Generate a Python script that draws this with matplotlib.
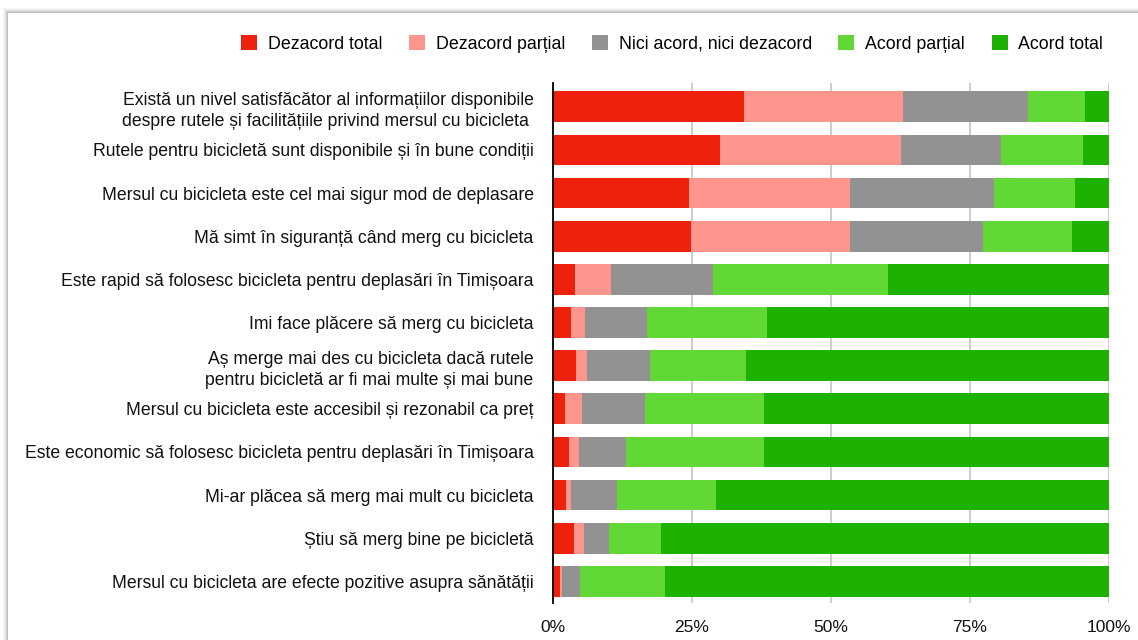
import matplotlib.pyplot as plt
import numpy as np
from matplotlib.patches import Patch, Rectangle

plt.rcParams['font.family'] = ['Liberation Sans', 'DejaVu Sans']

statements = [
    "Există un nivel satisfăcător al informațiilor disponibile\ndespre rutele și facilitățiile privind mersul cu bicicleta ",
    "Rutele pentru bicicletă sunt disponibile și în bune condiții",
    "Mersul cu bicicleta este cel mai sigur mod de deplasare",
    "Mă simt în siguranță când merg cu bicicleta",
    "Este rapid să folosesc bicicleta pentru deplasări în Timișoara",
    "Imi face plăcere să merg cu bicicleta",
    "Aș merge mai des cu bicicleta dacă rutele\npentru bicicletă ar fi mai multe și mai bune",
    "Mersul cu bicicleta este accesibil și rezonabil ca preț",
    "Este economic să folosesc bicicleta pentru deplasări în Timișoara",
    "Mi-ar plăcea să merg mai mult cu bicicleta",
    "Știu să merg bine pe bicicletă",
    "Mersul cu bicicleta are efecte pozitive asupra sănătății",
]

answers = ["Dezacord total", "Dezacord parțial", "Nici acord, nici dezacord",
           "Acord parțial", "Acord total"]

# percentages per answer, one value per statement (top to bottom)
dezacord_total = [34.4, 30.1, 24.5, 24.9, 3.9, 3.3, 4.2, 2.1, 2.8, 2.3, 3.7, 1.3]
dezacord_partial = [28.6, 32.5, 29.0, 28.6, 6.5, 2.5, 2.0, 3.2, 1.9, 1.0, 1.8, 0.3]
neutru = [22.5, 17.9, 25.9, 23.8, 18.3, 11.1, 11.3, 11.2, 8.4, 8.3, 4.5, 3.3]
acord_partial = [10.2, 14.8, 14.5, 16.1, 31.6, 21.5, 17.3, 21.5, 24.8, 17.7, 9.5, 15.2]
acord_total = [4.3, 4.7, 6.1, 6.6, 39.7, 61.6, 65.2, 62.0, 62.1, 70.7, 80.5, 79.9]

colors = ["#EE220C", "#FF968D", "#929292", "#61D836", "#1DB100"]

fig = plt.figure(figsize=(11.38, 6.4), dpi=100)

# card background with a soft shadow on the top and left edges
for i, a in enumerate([0.03, 0.04, 0.05, 0.06, 0.08]):
    off = (5 - i) / 1138
    offy = (5 - i) / 640
    fig.patches.append(Rectangle((8 / 1138 - off, -0.1), 1.2, 1 - 13 / 640 + offy + 0.1,
                                 transform=fig.transFigure, facecolor='black',
                                 alpha=a, edgecolor='none', zorder=-3))
fig.patches.append(Rectangle((8 / 1138, -0.1), 1.2, 1 - 13 / 640 + 0.1,
                             transform=fig.transFigure, facecolor='white',
                             edgecolor='none', zorder=-2))

ax = fig.add_axes([553 / 1138, 1 - 603 / 640, 556 / 1138, 520 / 640])
ax.set_facecolor('none')

y = np.arange(len(statements))
series = [dezacord_total, dezacord_partial, neutru, acord_partial, acord_total]
left = np.zeros(len(statements))
for vals, col in zip(series, colors):
    vals = np.array(vals)
    ax.barh(y, vals, left=left, height=0.71, color=col, edgecolor='none', zorder=3)
    left += vals

ax.set_xlim(0, 100)
ax.set_ylim(11.5, -0.55)
ax.set_yticks(y)
ax.set_yticklabels(statements, fontsize=12.7, color='#111111', linespacing=1.35)
ax.set_xticks([0, 25, 50, 75, 100])
ax.set_xticklabels(["0%", "25%", "50%", "75%", "100%"], fontsize=12.5, color='#111111')
ax.tick_params(axis='both', length=0)
ax.tick_params(axis='y', pad=14)
ax.tick_params(axis='x', pad=12)
ax.xaxis.grid(True, color='#C8C8C8', linewidth=1.3, zorder=0)
for s in ['top', 'right', 'bottom']:
    ax.spines[s].set_visible(False)
ax.spines['left'].set_color('black')
ax.spines['left'].set_linewidth(1.3)
ax.spines['left'].set_zorder(4)

handles = [Patch(facecolor=c, edgecolor='none', label=l) for c, l in zip(colors, answers)]
fig.legend(handles=handles, loc='center right', bbox_to_anchor=(1112 / 1138, 1 - 44 / 640),
           ncol=5, frameon=False, fontsize=12.8, handlelength=0.9, handleheight=0.9,
           handletextpad=0.6, columnspacing=1.5, borderpad=0)

fig.savefig("out.png", dpi=100)
